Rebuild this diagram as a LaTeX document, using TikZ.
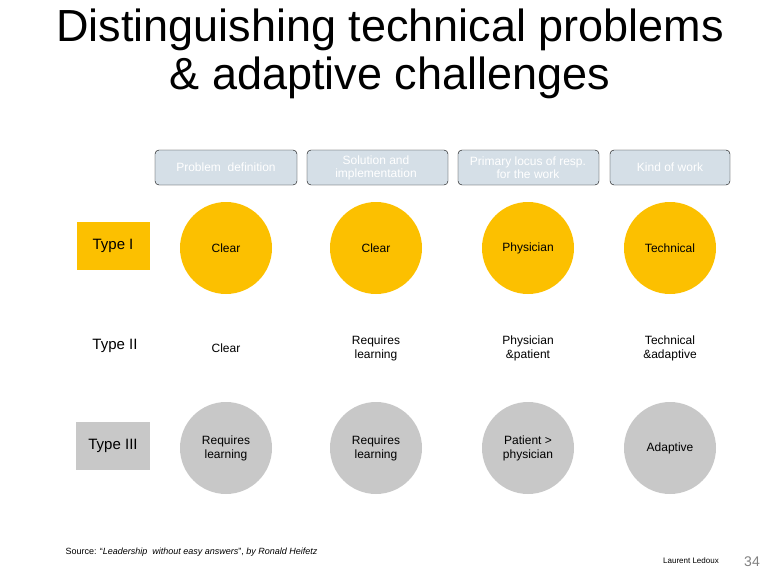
\documentclass[tikz,border=0pt]{standalone}
\usepackage{fontspec}
\setmainfont{Liberation Sans}
\usetikzlibrary{shapes.geometric}
\begin{document}
\begin{tikzpicture}[x=1pt,y=-1pt,
  hdr/.style={fill=hdrc,rounded corners=4pt,text=white,font=\fontsize{12}{13}\selectfont,align=center,inner sep=0pt},
  circ/.style={ellipse,minimum width=92pt,minimum height=92pt,inner sep=0pt,align=center,font=\fontsize{12}{14}\selectfont},
  yc/.style={circ,fill=orc},
  gc/.style={circ,fill=grc},
  lbl/.style={align=center,font=\fontsize{12}{14}\selectfont},
  tlbl/.style={font=\fontsize{15}{17}\selectfont,inner sep=0pt}]
\definecolor{orc}{HTML}{FCC000}
\definecolor{grc}{HTML}{C8C8C8}
\definecolor{hdrc}{HTML}{D5DFE7}
\useasboundingbox (0,0) rectangle (780,576);
\node (t1) at (390,30) {\fontsize{45}{50}\selectfont Distinguishing technical problems};
\node (t2) at (390,78) {\fontsize{45}{50}\selectfont \& adaptive challenges};
\draw[hdr] (155,150) rectangle (297,185); \node[hdr] (h1) at (226,167.5) {Problem\ \ definition};
\draw[hdr] (307,150) rectangle (448,185); \node[hdr] (h2) at (376,167.5) {Solution and\\implementation};
\draw[hdr] (458,150) rectangle (599,185); \node[hdr] (h3) at (528,167.5) {Primary locus of resp.\\for the work};
\draw[hdr] (610,150) rectangle (730,185); \node[hdr] (h4) at (670,167.5) {Kind of work};
\fill[orc] (77,222) rectangle (150,270); \node[tlbl] (r1) at (113,246) {Type I};
\node[tlbl] (r2) at (115,346) {Type II};
\fill[grc] (76,422) rectangle (150,470); \node[tlbl] (r3) at (113,446) {Type III};
\node[yc] (a1) at (226,248) {Clear};
\node[yc] (a2) at (376,248) {Clear};
\node[yc] (a3) at (528,248) {Physician};
\node[yc] (a4) at (670,248) {Technical};
\node[lbl] (b1) at (226,348) {Clear};
\node[lbl] (b2) at (376,348) {Requires\\learning};
\node[lbl] (b3) at (528,348) {Physician\\\&patient};
\node[lbl] (b4) at (670,348) {Technical\\\&adaptive};
\node[gc] (c1) at (226,448) {Requires\\learning};
\node[gc] (c2) at (376,448) {Requires\\learning};
\node[gc] (c3) at (528,448) {Patient >\\physician};
\node[gc] (c4) at (670,448) {Adaptive};
\node[anchor=west,font=\fontsize{9}{10}\selectfont] (src) at (62,552) {Source: ``\textit{Leadership\ \ without easy answers}'', \textit{by Ronald Heifetz}};
\node[font=\fontsize{8}{9}\selectfont] (au) at (691,561) {Laurent Ledoux};
\node[font=\fontsize{14}{15}\selectfont,text=gray] (pg) at (752,562) {34};
\end{tikzpicture}
\end{document}
